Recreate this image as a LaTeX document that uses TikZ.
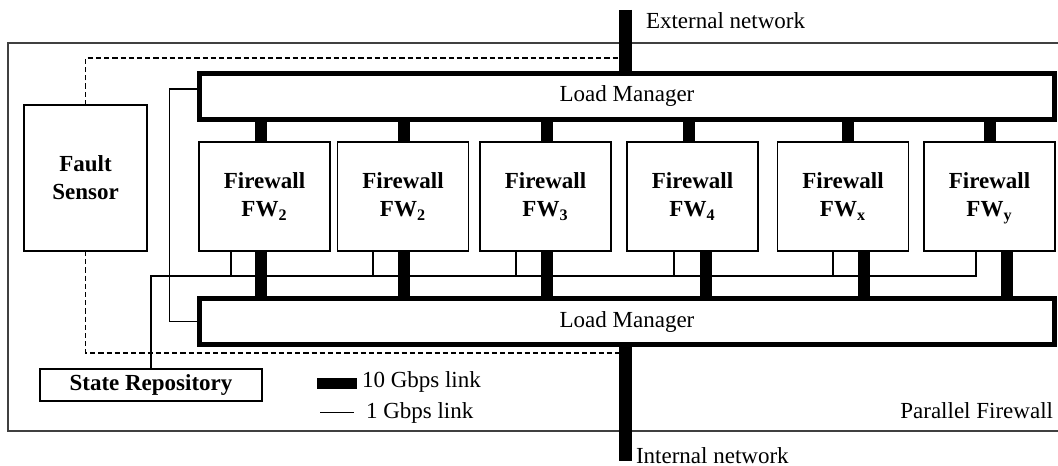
\documentclass[tikz,border=0pt]{standalone}
\usepackage{fontspec}
\setmainfont{Liberation Serif}
\usetikzlibrary{positioning,calc}

\begin{document}
\begin{tikzpicture}[x=0.5pt,y=-0.5pt,
	every node/.style={outer sep=0pt,inner sep=0pt,font=\fontsize{11.5}{14}\selectfont},
	box/.style={draw=black,line width=0.85pt,fill=white,align=center,font=\fontsize{11.5}{14}\selectfont\bfseries},
	fwbox/.style={box,minimum width=65.5pt,minimum height=54.5pt},
	lmbox/.style={draw=black,line width=2.5pt,fill=white,minimum width=427.5pt,minimum height=23pt},
	tenG/.style={line width=6.2pt},
	oneG/.style={line width=0.9pt},
	sensorlink/.style={line width=0.9pt,dash pattern=on 2.6pt off 1.5pt},
	frame/.style={draw=black!75,line width=0.9pt}]

		\useasboundingbox (0,0) rectangle (1058,465);

		%parallel firewall frame
		\draw[frame] (1060,43) -- (8,43) -- (8,431) -- (1060,431);
		\node[anchor=base east] (pf) at (1053,418) {Parallel Firewall};

		%network end points
		\coordinate (ext) at (625.5,10);
		\coordinate (int) at (625.5,461);
		\coordinate (dtop) at (625.5,58);
		\coordinate (dbot) at (625.5,353);
		\coordinate (busL) at (151,276);
		\coordinate (busR) at (976,276);

		%load managers
		\node[lmbox] (lmtop) at (627,96.5) {Load Manager};
		\node[lmbox] (lmbot) at (627,321.5) {Load Manager};

		%firewalls
		\node[fwbox] (fw1) at (264.5,196.5) {Firewall\\FW\textsubscript{2}};
		\node[fwbox] (fw2) at (403,196.5) {Firewall\\FW\textsubscript{2}};
		\node[fwbox] (fw3) at (545.5,196.5) {Firewall\\FW\textsubscript{3}};
		\node[fwbox] (fw4) at (692.5,196.5) {Firewall\\FW\textsubscript{4}};
		\node[fwbox] (fwx) at (843,196.5) {Firewall\\FW\textsubscript{x}};
		\node[fwbox] (fwy) at (989.5,196.5) {Firewall\\FW\textsubscript{\smash{y}}};

		%sensor and repository
		\node[box,minimum width=61.5pt,minimum height=73pt] (fs) at (85.5,178) {Fault\\Sensor};
		\node[box,minimum width=111pt,minimum height=16pt] (sr) at (151,385) {State Repository};

		%sensor links
		\draw[sensorlink] (fs.north) |- (dtop);
		\draw[sensorlink] (fs.south) |- (dbot);

		%1 Gbps links
		\draw[oneG] ($(lmtop.west)+(0,-7.5)$) -- ++(-30,0) |- (lmbot.west);
		\draw[oneG] ($(fwy.south)+(-13.5,0)$) -- (busR) -- (busL) -- (sr.north);
		\draw[oneG] ($(fw1.south)+(-33.5,0)$) coordinate (t1) -- (t1 |- busL);
		\draw[oneG] ($(fw2.south)+(-30,0)$) coordinate (t2) -- (t2 |- busL);
		\draw[oneG] ($(fw3.south)+(-29.5,0)$) coordinate (t3) -- (t3 |- busL);
		\draw[oneG] ($(fw4.south)+(-18.5,0)$) coordinate (t4) -- (t4 |- busL);
		\draw[oneG] ($(fwx.south)+(-10,0)$) coordinate (t5) -- (t5 |- busL);

		%10 Gbps links, top
		\draw[tenG] (ext) -- (ext |- lmtop.north);
		\draw[tenG] ($(fw1.north)+(-3.5,0)$) coordinate (a1) -- (a1 |- lmtop.south);
		\draw[tenG] ($(fw2.north)+(1,0)$) coordinate (a2) -- (a2 |- lmtop.south);
		\draw[tenG] ($(fw3.north)+(1.5,0)$) coordinate (a3) -- (a3 |- lmtop.south);
		\draw[tenG] ($(fw4.north)+(-3.5,0)$) coordinate (a4) -- (a4 |- lmtop.south);
		\draw[tenG] ($(fwx.north)+(5,0)$) coordinate (a5) -- (a5 |- lmtop.south);
		\draw[tenG] ($(fwy.north)+(0.5,0)$) coordinate (a6) -- (a6 |- lmtop.south);

		%10 Gbps links, bottom
		\draw[tenG] ($(fw1.south)+(-3.5,0)$) coordinate (b1) -- (b1 |- lmbot.north);
		\draw[tenG] ($(fw2.south)+(1,0)$) coordinate (b2) -- (b2 |- lmbot.north);
		\draw[tenG] ($(fw3.south)+(1.5,0)$) coordinate (b3) -- (b3 |- lmbot.north);
		\draw[tenG] ($(fw4.south)+(13.5,0)$) coordinate (b4) -- (b4 |- lmbot.north);
		\draw[tenG] ($(fwx.south)+(21,0)$) coordinate (b5) -- (b5 |- lmbot.north);
		\draw[tenG] ($(fwy.south)+(17.5,0)$) coordinate (b6) -- (b6 |- lmbot.north);
		\draw[tenG] (lmbot.south -| int) -- (int);

		%network labels
		\node[anchor=base west] (extlbl) at (646,29) {External network};
		\node[anchor=base west] (intlbl) at (636,463) {Internal network};

		%legend
		\node[anchor=base west] (l10) at (362,387) {10 Gbps link};
		\node[anchor=base west] (l1) at (366,418) {1 Gbps link};
		\draw[tenG,line width=5.5pt] ($(l10.west)+(-45,2)$) -- ($(l10.west)+(-5,2)$);
		\draw[oneG] ($(l1.west)+(-46,0)$) -- ($(l1.west)+(-12,0)$);

\end{tikzpicture}
\end{document}
